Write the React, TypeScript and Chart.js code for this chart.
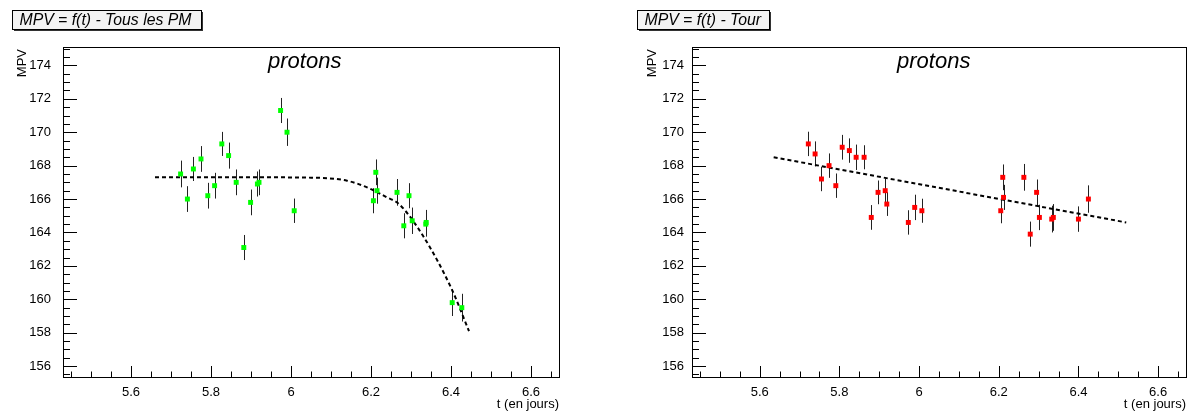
import React, { useEffect, useRef } from "react";
import { Chart, registerables } from "chart.js";
Chart.register(...registerables);

// ---- tick labels ----
const xTickLabels = [5.6, 5.8, 6.0, 6.2, 6.4, 6.6];
const yTickLabels = [156, 158, 160, 162, 164, 166, 168, 170, 172, 174];

// ---- left panel: Tous les PM ----
const leftT = [5.724, 5.741, 5.756, 5.775, 5.792, 5.809, 5.827, 5.844, 5.863, 5.882, 5.899, 5.916, 5.92, 5.974, 5.99, 6.008, 6.206, 6.212, 6.215, 6.265, 6.282, 6.295, 6.303, 6.337, 6.338, 6.403, 6.427];
const leftMPV = [167.5, 166.0, 167.8, 168.4, 166.2, 166.8, 169.3, 168.6, 167.0, 163.1, 165.8, 166.9, 167.0, 171.3, 170.0, 165.3, 165.9, 167.6, 166.5, 166.4, 164.4, 166.2, 164.7, 164.5, 164.6, 159.8, 159.5];
const leftErr = [0.8, 0.77, 0.72, 0.77, 0.77, 0.77, 0.72, 0.78, 0.77, 0.75, 0.77, 0.75, 0.77, 0.75, 0.82, 0.73, 0.75, 0.77, 0.78, 0.8, 0.75, 0.75, 0.79, 0.75, 0.75, 0.8, 0.83];
const leftFitT = [5.66, 5.8, 5.95, 6.05, 6.09, 6.14, 6.19, 6.24, 6.27, 6.33, 6.4, 6.445];
const leftFitMPV = [167.3, 167.3, 167.3, 167.28, 167.25, 167.1, 166.7, 166.1, 165.7, 163.8, 160.7, 158.1];

// ---- right panel: Tour ----
const rightT = [5.722, 5.739, 5.755, 5.774, 5.791, 5.807, 5.825, 5.842, 5.862, 5.88, 5.897, 5.915, 5.919, 5.973, 5.989, 6.007, 6.205, 6.21, 6.212, 6.263, 6.279, 6.295, 6.302, 6.333, 6.337, 6.4, 6.425];
const rightMPV = [169.3, 168.7, 167.2, 168.0, 166.8, 169.1, 168.9, 168.5, 168.5, 164.9, 166.4, 166.5, 165.7, 164.6, 165.5, 165.3, 165.3, 167.3, 166.1, 167.3, 163.9, 166.4, 164.9, 164.8, 164.9, 164.8, 166.0];
const rightErr = [0.73, 0.75, 0.73, 0.73, 0.73, 0.74, 0.73, 0.76, 0.72, 0.74, 0.71, 0.74, 0.71, 0.73, 0.76, 0.72, 0.75, 0.77, 0.75, 0.8, 0.75, 0.77, 0.76, 0.8, 0.8, 0.76, 0.82];
const rightFitT = [5.635, 6.52];
const rightFitMPV = [168.5, 164.6];

const X_MIN = 5.43;
const X_MAX = 6.67;
const Y_MIN = 155.35;
const Y_MAX = 175.1;

const FONT = "'Liberation Sans', Arial, Helvetica, sans-serif";

type PanelCfg = {
  title: string;
  titleBox: { x: number; y: number; w: number; h: number };
  t: number[];
  mpv: number[];
  err: number[];
  fitT: number[];
  fitMPV: number[];
  color: string;
  area: { left: number; right: number; top: number; bottom: number };
  yLabelGap: number;
  yTitleX: number;
  width: number;
};

function makePanelPlugin(cfg: PanelCfg) {
  return {
    id: "rootStyle",
    beforeDatasetsDraw(chart: any) {
      const ctx = chart.ctx;
      const xs = chart.scales.x;
      const ys = chart.scales.y;
      ctx.save();
      ctx.strokeStyle = "#222";
      ctx.lineWidth = 1;
      for (let i = 0; i < cfg.t.length; i++) {
        const px = Math.round(xs.getPixelForValue(cfg.t[i])) + 0.5;
        const y1 = ys.getPixelForValue(cfg.mpv[i] + cfg.err[i]);
        const y2 = ys.getPixelForValue(cfg.mpv[i] - cfg.err[i]);
        ctx.beginPath();
        ctx.moveTo(px, y1);
        ctx.lineTo(px, y2);
        ctx.stroke();
      }
      ctx.restore();
    },
    afterDraw(chart: any) {
      const ctx = chart.ctx;
      const a = chart.chartArea;
      const xs = chart.scales.x;
      const ys = chart.scales.y;
      ctx.save();
      // frame
      ctx.strokeStyle = "#000";
      ctx.lineWidth = 1;
      ctx.strokeRect(Math.round(a.left) + 0.5, Math.round(a.top) + 0.5, Math.round(a.right - a.left), Math.round(a.bottom - a.top));
      // x ticks (inward)
      ctx.beginPath();
      for (let k = 0; ; k++) {
        const v = 5.45 + k * 0.05;
        if (v > X_MAX) break;
        const major = xTickLabels.some((m) => Math.abs(m - v) < 1e-6);
        const px = Math.round(xs.getPixelForValue(v)) + 0.5;
        const len = major ? 11 : 5.5;
        ctx.moveTo(px, a.bottom);
        ctx.lineTo(px, a.bottom - len);
      }
      // y ticks (inward)
      for (let k = 0; ; k++) {
        const v = 155.5 + k * 0.5;
        if (v > Y_MAX) break;
        const major = yTickLabels.some((m) => Math.abs(m - v) < 1e-6);
        const py = Math.round(ys.getPixelForValue(v)) + 0.5;
        const len = major ? 14 : 7;
        ctx.moveTo(a.left, py);
        ctx.lineTo(a.left + len, py);
      }
      ctx.stroke();

      // axis titles
      ctx.fillStyle = "#000";
      ctx.font = `13px ${FONT}`;
      ctx.textAlign = "right";
      ctx.textBaseline = "alphabetic";
      ctx.fillText("t (en jours)", a.right, 408);
      ctx.save();
      ctx.translate(cfg.yTitleX, a.top + 2);
      ctx.rotate(-Math.PI / 2);
      ctx.textAlign = "right";
      ctx.textBaseline = "middle";
      ctx.fillText("MPV", 0, 0);
      ctx.restore();

      // "protons"
      ctx.font = `italic 22px ${FONT}`;
      ctx.textAlign = "left";
      ctx.fillText("protons", a.left + 205, 68);

      // title box
      const b = cfg.titleBox;
      ctx.fillStyle = "#333";
      ctx.fillRect(b.x + 2, b.y + 2, b.w, b.h);
      ctx.fillStyle = "#f3f3f3";
      ctx.fillRect(b.x, b.y, b.w, b.h);
      ctx.strokeStyle = "#000";
      ctx.strokeRect(b.x + 0.5, b.y + 0.5, b.w, b.h);
      ctx.fillStyle = "#000";
      ctx.font = `italic 15.8px ${FONT}`;
      ctx.textAlign = "left";
      ctx.textBaseline = "alphabetic";
      ctx.fillText(cfg.title, b.x + 7.5, b.y + 14.5);
      ctx.restore();
    },
  };
}

function Panel({ cfg }: { cfg: PanelCfg }) {
  const ref = useRef<HTMLCanvasElement | null>(null);
  useEffect(() => {
    if (!ref.current) return;
    const a = cfg.area;
    const chart = new Chart(ref.current, {
      type: "scatter",
      data: {
        datasets: [
          {
            type: "scatter",
            data: cfg.t.map((t, i) => ({ x: t, y: cfg.mpv[i] })),
            pointStyle: "rect",
            pointRadius: 3.5,
            pointBackgroundColor: cfg.color,
            pointBorderColor: cfg.color,
            pointBorderWidth: 0,
          },
          {
            type: "line",
            data: cfg.fitT.map((t, i) => ({ x: t, y: cfg.fitMPV[i] })),
            borderColor: "#000",
            borderWidth: 2,
            borderDash: [4, 3],
            pointRadius: 0,
            fill: false,
            cubicInterpolationMode: "monotone",
            showLine: true,
          },
        ],
      } as any,
      options: {
        responsive: false,
        animation: false,
        devicePixelRatio: 1,
        layout: { padding: { left: 0, top: a.top, right: cfg.width - a.right, bottom: 0 } },
        plugins: { legend: { display: false }, tooltip: { enabled: false }, title: { display: false } },
        scales: {
          x: {
            type: "linear",
            min: X_MIN,
            max: X_MAX,
            grid: { display: false, drawTicks: false },
            border: { display: false },
            ticks: {
              padding: 8,
              color: "#000",
              font: { family: FONT, size: 13 },
              maxRotation: 0,
              autoSkip: false,
              callback: (v: any) => String(+Number(v).toFixed(1)),
            },
            afterBuildTicks: (s: any) => {
              s.ticks = xTickLabels.map((v) => ({ value: v }));
            },
            afterFit: (s: any) => {
              s.height = 414 - a.bottom;
            },
          },
          y: {
            type: "linear",
            min: Y_MIN,
            max: Y_MAX,
            grid: { display: false, drawTicks: false },
            border: { display: false },
            ticks: {
              padding: cfg.yLabelGap,
              color: "#000",
              font: { family: FONT, size: 13 },
              autoSkip: false,
              callback: (v: any) => String(Math.round(Number(v))),
            },
            afterBuildTicks: (s: any) => {
              s.ticks = yTickLabels.map((v) => ({ value: v }));
            },
            afterFit: (s: any) => {
              s.width = a.left;
            },
          },
        },
      } as any,
      plugins: [makePanelPlugin(cfg) as any],
    });
    return () => chart.destroy();
  }, [cfg]);
  return <canvas ref={ref} width={cfg.width} height={414} style={{ display: "block" }} />;
}

const leftCfg: PanelCfg = {
  title: "MPV = f(t) - Tous les PM",
  titleBox: { x: 12, y: 10, w: 189, h: 19 },
  t: leftT,
  mpv: leftMPV,
  err: leftErr,
  fitT: leftFitT,
  fitMPV: leftFitMPV,
  color: "#00ff00",
  area: { left: 63, right: 559, top: 47, bottom: 377 },
  yLabelGap: 12,
  yTitleX: 22.5,
  width: 595,
};

const rightCfg: PanelCfg = {
  title: "MPV = f(t) - Tour",
  titleBox: { x: 42, y: 10, w: 132, h: 19 },
  t: rightT,
  mpv: rightMPV,
  err: rightErr,
  fitT: rightFitT,
  fitMPV: rightFitMPV,
  color: "#ff0000",
  area: { left: 97, right: 591, top: 47, bottom: 377 },
  yLabelGap: 8,
  yTitleX: 57,
  width: 596,
};

export default function App() {
  useEffect(() => {
    document.body.style.margin = "0";
    document.body.style.background = "#fff";
  }, []);
  return (
    <div style={{ display: "flex", width: 1191, height: 414, background: "#fff" }}>
      <Panel cfg={leftCfg} />
      <Panel cfg={rightCfg} />
    </div>
  );
}
